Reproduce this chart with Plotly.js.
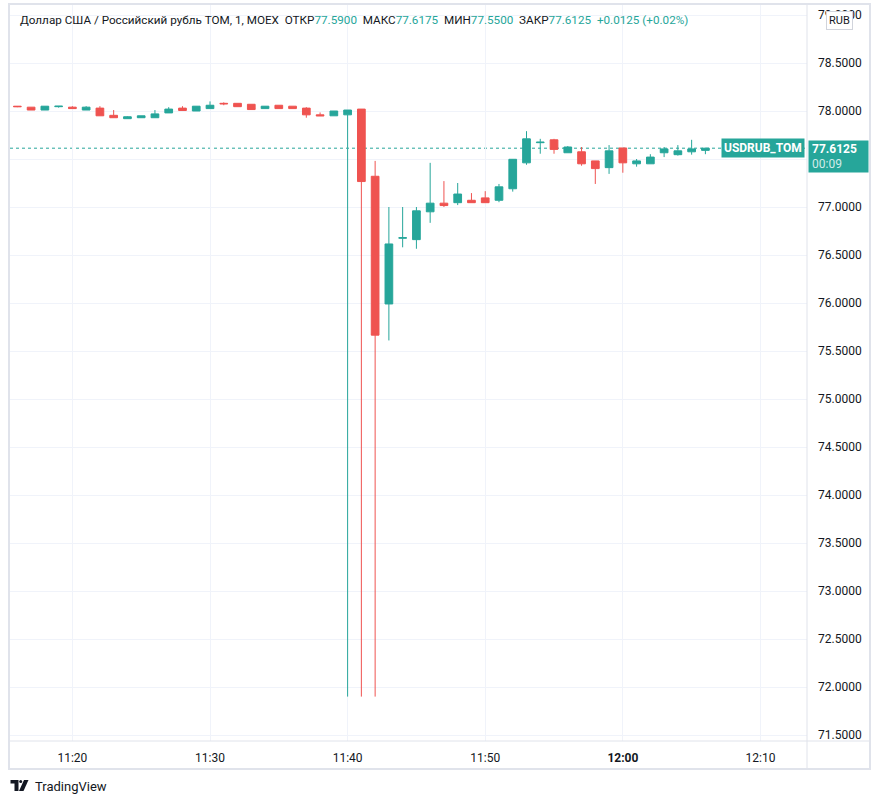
<!DOCTYPE html>
<html>
<head>
<meta charset="utf-8">
<script src="https://cdn.plot.ly/plotly-3.0.1.min.js"></script>
<style>
  html, body { margin: 0; padding: 0; background: #ffffff; }
  #chart { width: 881px; height: 804px; }
</style>
</head>
<body>
<div id="chart"></div>
<script>
// ---- data (1-minute candles, USD/RUB TOM, MOEX) ----
const times = ['11:16','11:17','11:18','11:19','11:20','11:21','11:22','11:23','11:24','11:25',
               '11:26','11:27','11:28','11:29','11:30','11:31','11:32','11:33','11:34','11:35',
               '11:36','11:37','11:38','11:39','11:40','11:41','11:42','11:43','11:44','11:45',
               '11:46','11:47','11:48','11:49','11:50','11:51','11:52','11:53','11:54','11:55',
               '11:56','11:57','11:58','11:59','12:00','12:01','12:02','12:03','12:04','12:05','12:06'];
const openP  = [78.050,78.040,78.010,78.045,78.040,78.010,78.030,77.955,77.920,77.930,
                77.930,77.980,78.030,78.000,78.025,78.080,78.080,78.070,78.025,78.060,
                78.050,78.030,77.960,77.950,77.960,78.020,77.320,75.990,76.675,76.660,
                76.950,77.040,77.045,77.070,77.095,77.070,77.190,77.460,77.670,77.700,
                77.565,77.575,77.480,77.410,77.615,77.450,77.450,77.565,77.545,77.575,77.5900];
const highP  = [78.052,78.040,78.050,78.052,78.050,78.050,78.050,78.010,77.945,77.950,
                78.010,78.040,78.050,78.050,78.100,78.090,78.080,78.070,78.050,78.060,
                78.050,78.040,77.985,78.000,78.010,78.020,77.480,77.000,77.000,77.000,
                77.460,77.270,77.250,77.145,77.165,77.240,77.500,77.790,77.710,77.710,
                77.635,77.625,77.480,77.645,77.615,77.500,77.550,77.625,77.645,77.700,77.6175];
const lowP   = [78.040,78.010,78.010,78.035,78.025,78.010,77.950,77.930,77.920,77.930,
                77.930,77.980,78.005,78.000,78.025,78.060,78.045,78.015,78.025,78.025,
                78.025,77.930,77.950,77.950,71.900,71.900,71.900,75.610,76.580,76.565,
                76.835,77.000,77.020,77.045,77.045,77.050,77.160,77.440,77.555,77.555,
                77.565,77.430,77.240,77.345,77.357,77.420,77.450,77.520,77.535,77.545,77.5500];
const closeP = [78.045,78.010,78.050,78.050,78.025,78.040,77.950,77.930,77.940,77.950,
                77.970,78.020,78.005,78.050,78.060,78.075,78.045,78.015,78.050,78.025,
                78.025,77.960,77.950,78.000,78.010,77.265,75.665,76.615,76.680,76.960,
                77.040,77.015,77.135,77.045,77.045,77.210,77.497,77.710,77.675,77.600,
                77.625,77.450,77.400,77.585,77.460,77.480,77.520,77.605,77.585,77.605,77.6125];

const xTickVals = ['11:20','11:30','11:40','11:50','12:00','12:10'];
const xTickText = ['11:20','11:30','11:40','11:50','<b>12:00</b>','12:10'];
const yTickVals = [71.5,72.0,72.5,73.0,73.5,74.0,74.5,75.0,75.5,76.0,76.5,77.0,77.5,78.0,78.5,79.0];

const lastPrice = 77.6125;
const lastOpen = 77.5900, lastHigh = 77.6175, lastLow = 77.5500, change = '+0.0125', changePct = '(+0.02%)';
const symbolName = 'Доллар США / Российский рубль TOM, 1, MOEX';
const tickerLabel = 'USDRUB_TOM';
const countdown = '00:09';

// ---- helpers ----
const DAY = '2022-03-01 ';
const toDate = t => DAY + t;
const UP = '#26a69a', DOWN = '#ef5350', TXT = '#131722', FRAME = '#e0e3eb', GRID = '#f0f3fa';
// pixel -> paper (plot area: x 10..807, y 4..741)
const PL = 10, PR = 807, PT = 4, PB = 741;
const px = x => (x - PL) / (PR - PL);
const py = y => (PB - y) / (PB - PT);

const trace = {
  type: 'candlestick',
  x: times.map(toDate),
  open: openP, high: highP, low: lowP, close: closeP,
  increasing: { line: { color: UP, width: 1 }, fillcolor: UP },
  decreasing: { line: { color: DOWN, width: 1 }, fillcolor: DOWN },
  whiskerwidth: 0,
  hoverinfo: 'skip',
  showlegend: false
};

const sp = '\u00a0';
const headerText =
  symbolName + sp + sp + 'ОТКР' + `<span style="color:${UP}">${lastOpen.toFixed(4)}</span>` +
  sp + sp + 'МАКС' + `<span style="color:${UP}">${lastHigh.toFixed(4)}</span>` +
  sp + sp + 'МИН' + `<span style="color:${UP}">${lastLow.toFixed(4)}</span>` +
  sp + sp + 'ЗАКР' + `<span style="color:${UP}">${lastPrice.toFixed(4)}</span>` +
  sp + sp + `<span style="color:${UP}">${change} ${changePct}</span>`;

const shapes = [
  // last price dotted line
  { type: 'line', xref: 'paper', yref: 'y', x0: 0, x1: 1, y0: lastPrice, y1: lastPrice,
    line: { color: UP, width: 1, dash: 'dot' }, layer: 'below' },
  // outer frame
  { type: 'rect', xref: 'paper', yref: 'paper', x0: px(9), x1: px(870), y0: py(4), y1: py(769),
    line: { color: FRAME, width: 2 }, fillcolor: 'rgba(0,0,0,0)' },
  // price-axis separator
  { type: 'line', xref: 'paper', yref: 'paper', x0: px(807), x1: px(807), y0: py(4), y1: py(769),
    line: { color: FRAME, width: 1 } },
  // time-axis separator
  { type: 'line', xref: 'paper', yref: 'paper', x0: px(9), x1: px(870), y0: py(741), y1: py(741),
    line: { color: FRAME, width: 1 } },
  // TradingView logo (approximate)
  { type: 'path', xref: 'paper', yref: 'paper', fillcolor: TXT, line: { width: 0 },
    path: `M ${px(10.5)},${py(780)} L ${px(18.5)},${py(780)} L ${px(18.5)},${py(791)} L ${px(14.5)},${py(791)} L ${px(14.5)},${py(783.5)} L ${px(10.5)},${py(783.5)} Z` },
  { type: 'circle', xref: 'paper', yref: 'paper', fillcolor: TXT, line: { width: 0 },
    x0: px(19.2), x1: px(22.2), y0: py(780), y1: py(783) },
  { type: 'path', xref: 'paper', yref: 'paper', fillcolor: TXT, line: { width: 0 },
    path: `M ${px(24)},${py(780)} L ${px(28.5)},${py(780)} L ${px(23.5)},${py(791)} L ${px(19)},${py(791)} Z` }
];

const annotations = [
  { xref: 'paper', yref: 'paper', x: px(18), y: py(20), xanchor: 'left', yanchor: 'middle',
    text: headerText, showarrow: false, font: { size: 11.7, color: TXT } },
  { xref: 'paper', yref: 'paper', x: px(839), y: py(20), xanchor: 'center', yanchor: 'middle',
    text: 'RUB', showarrow: false, font: { size: 11, color: TXT },
    bgcolor: '#ffffff', bordercolor: '#d1d4dc', borderwidth: 1, borderpad: 2 },
  { xref: 'paper', yref: 'y', x: px(805), y: lastPrice, xanchor: 'right', yanchor: 'middle',
    text: '<b>' + tickerLabel + '</b>', showarrow: false, font: { size: 12, color: '#ffffff' },
    bgcolor: UP, borderpad: 2 },
  { xref: 'paper', yref: 'paper', x: px(807.5), y: py(140), xanchor: 'left', yanchor: 'top',
    text: '<b>' + lastPrice.toFixed(4) + '</b><br><span style="color:rgba(255,255,255,0.8)">' + countdown + '</span>',
    showarrow: false, align: 'left', valign: 'middle', width: 53, height: 25,
    font: { size: 12, color: '#ffffff' },
    bgcolor: UP, borderpad: 3 },
  { xref: 'paper', yref: 'paper', x: px(33), y: py(786), xanchor: 'left', yanchor: 'middle',
    text: 'TradingView', showarrow: false, font: { size: 13, color: TXT } }
];

const layout = {
  width: 881, height: 804,
  margin: { l: PL, r: 881 - PR, t: PT, b: 804 - PB, pad: 0 },
  paper_bgcolor: '#ffffff', plot_bgcolor: '#ffffff',
  font: { family: 'Roboto, "Open Sans", sans-serif', color: TXT, size: 12 },
  showlegend: false,
  hovermode: false,
  dragmode: false,
  boxgap: 0.2,
  xaxis: {
    type: 'date',
    range: [toDate('11:15:28'), toDate('12:13:23')],
    tickvals: xTickVals.map(toDate), ticktext: xTickText,
    showgrid: true, gridcolor: GRID, gridwidth: 1,
    zeroline: false, showline: false, ticks: '',
    ticklabelstandoff: 8,
    tickfont: { size: 12, color: TXT },
    rangeslider: { visible: false },
    fixedrange: true
  },
  yaxis: {
    side: 'right',
    range: [71.4375, 79.1146],
    tickvals: yTickVals, tickformat: '.4f',
    showgrid: true, gridcolor: GRID, gridwidth: 1,
    zeroline: false, showline: false, ticks: '',
    ticklabelstandoff: 10,
    tickfont: { size: 12, color: TXT },
    fixedrange: true
  },
  shapes: shapes,
  annotations: annotations
};

Plotly.newPlot('chart', [trace], layout, { displayModeBar: false, staticPlot: true });
</script>
</body>
</html>
